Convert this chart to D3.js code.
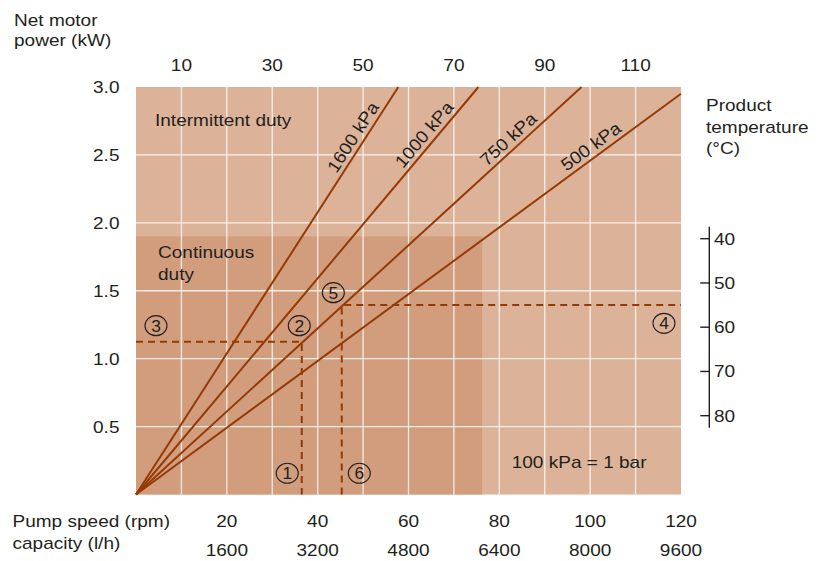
<!DOCTYPE html>
<html>
<head>
<meta charset="utf-8">
<script src="https://cdn.jsdelivr.net/npm/d3@7/dist/d3.min.js"></script>
<style>
  html, body { margin: 0; padding: 0; background: #fff; }
  svg text { font-family: "Liberation Sans", Arial, Helvetica, sans-serif; fill: #231f20; }
</style>
</head>
<body>
<svg id="chart" width="828" height="561"></svg>
<script>
// ---------- data ----------
const speedTicksTop = [10, 30, 50, 70, 90, 110];
const speedTicksBottom = [20, 40, 60, 80, 100, 120];
const capacityTicks = [1600, 3200, 4800, 6400, 8000, 9600];
const powerTicks = [0.5, 1.0, 1.5, 2.0, 2.5, 3.0];
const tempTicks = [40, 50, 60, 70, 80];
const gridSpeeds = [10, 20, 30, 40, 50, 60, 70, 80, 90, 100, 110];
const gridPowers = [0.5, 1.0, 1.5, 2.0, 2.5];

const pressureLabels = ["1600 kPa", "1000 kPa", "750 kPa", "500 kPa"];
const lineEndSpeed = [57.75, 75.4, 98.1, 120];
const lineEndPower = [3.0, 3.0, 3.0, 2.95];
const labelSpeed = [49.8, 65.3, 83.6, 101.6];

const continuousMaxSpeed = 76.2;
const continuousMaxPower = 1.9;

// dashed reading examples: [speed, power]
const example1 = [36.5, 1.125];   // reading at 750 kPa -> power
const example2 = [45.3, 1.395];   // reading at 750 kPa -> temperature

const markerLabels = ["1", "2", "3", "4", "5", "6"];
const markerSpeed = [33.3, 35.95, 4.4, 116.25, 43.45, 49.17];
const markerPower = [0.156, 1.243, 1.243, 1.26, 1.486, 0.156];

const tempAxisExtent = [37.3, 82.7];

// ---------- layout ----------
const SX = 1.12;        // horizontal text stretch of the original
const FS = 17;
const lineColor = "#963a05";
const bgIntermittent = "#dcb398";
const bgContinuous = "#d19d7d";

const svg = d3.select("#chart");
const x = d3.scaleLinear().domain([0, 120]).range([136, 681]);
const y = d3.scaleLinear().domain([0, 3]).range([494.5, 87]);
const yT = d3.scaleLinear().domain([40, 80]).range([238.7, 415.7]);

function txt(g, str, px, py, anchor) {
  return g.append("text")
    .attr("transform", `translate(${px},${py}) scale(${SX},1)`)
    .attr("text-anchor", anchor || "start")
    .style("font-size", FS + "px")
    .text(str);
}

// backgrounds
svg.append("rect")
  .attr("x", x(0)).attr("y", y(3))
  .attr("width", x(120) - x(0)).attr("height", y(0) - y(3))
  .attr("fill", bgIntermittent);
svg.append("rect")
  .attr("x", x(0)).attr("y", y(continuousMaxPower))
  .attr("width", x(continuousMaxSpeed) - x(0)).attr("height", y(0) - y(continuousMaxPower))
  .attr("fill", bgContinuous);

// grid
const grid = svg.append("g").attr("stroke", "#fff").attr("stroke-opacity", 0.8).attr("stroke-width", 1.3);
grid.selectAll("line.v").data(gridSpeeds).join("line")
  .attr("x1", d => x(d)).attr("x2", d => x(d))
  .attr("y1", y(0)).attr("y2", y(3));
grid.selectAll("line.h").data(gridPowers).join("line")
  .attr("x1", x(0)).attr("x2", x(120))
  .attr("y1", d => y(d)).attr("y2", d => y(d));

// pressure lines
const lines = pressureLabels.map((p, i) => ({
  label: p, s: lineEndSpeed[i], p: lineEndPower[i], ls: labelSpeed[i]
}));
const lineGen = d3.line().x(d => x(d[0])).y(d => y(d[1]));
svg.append("g").selectAll("path").data(lines).join("path")
  .attr("d", d => lineGen([[0, 0], [d.s, d.p]]))
  .attr("fill", "none").attr("stroke", lineColor).attr("stroke-width", 2);

// line labels
lines.forEach(d => {
  const dx = x(d.s) - x(0), dy = y(d.p) - y(0);
  const ang = Math.atan2(dy, dx) * 180 / Math.PI;
  const px = x(d.ls), py = y(d.p / d.s * d.ls);
  svg.append("text")
    .attr("transform", `translate(${px},${py}) rotate(${ang}) scale(1.08,1)`)
    .attr("x", 0).attr("y", -5)
    .attr("text-anchor", "middle")
    .style("font-size", "17.5px")
    .text(d.label);
});

// dashed reading lines
const dash = svg.append("g").attr("fill", "none").attr("stroke", lineColor)
  .attr("stroke-width", 2).attr("stroke-dasharray", "7,5");
dash.append("path").attr("d", lineGen([[0, example1[1]], example1, [example1[0], 0]]));
dash.append("path").attr("d", lineGen([[example2[0], 0], example2, [120, example2[1]]]));

// circled markers
const mk = svg.append("g");
markerLabels.forEach((m, i) => {
  const cx = x(markerSpeed[i]), cy = y(markerPower[i]);
  mk.append("ellipse").attr("cx", cx).attr("cy", cy).attr("rx", 11).attr("ry", 10)
    .attr("fill", "none").attr("stroke", "#231f20").attr("stroke-width", 1.1);
  mk.append("text")
    .attr("transform", `translate(${cx},${cy + 6}) scale(1.05,1)`)
    .attr("text-anchor", "middle")
    .style("font-size", "16.5px")
    .text(m);
});

// region texts
txt(svg, "Intermittent duty", 155, 126);
txt(svg, "Continuous", 158, 258.3);
txt(svg, "duty", 158, 279.5);
txt(svg, "100 kPa = 1 bar", 511.7, 468);

// left axis title and labels
txt(svg, "Net motor", 14, 26);
txt(svg, "power (kW)", 14, 46);
powerTicks.forEach(v => txt(svg, d3.format(".1f")(v), 119.5, y(v) + 6, "end"));

// top labels
speedTicksTop.forEach(v => txt(svg, String(v), x(v), 71, "middle"));

// bottom labels
txt(svg, "Pump speed (rpm)", 12.5, 527.3);
txt(svg, "capacity (l/h)", 12.5, 548.5);
speedTicksBottom.forEach((v, i) => {
  txt(svg, String(v), x(v), 527.3, "middle");
  txt(svg, String(capacityTicks[i]), x(v), 555.5, "middle");
});

// right temperature axis
const ax = 709.3;
const rg = svg.append("g").attr("stroke", "#231f20").attr("stroke-width", 1.4);
rg.append("line").attr("x1", ax).attr("x2", ax)
  .attr("y1", yT(tempAxisExtent[0])).attr("y2", yT(tempAxisExtent[1]));
rg.selectAll("line.t").data(tempTicks).join("line")
  .attr("x1", ax - 9).attr("x2", ax)
  .attr("y1", d => yT(d)).attr("y2", d => yT(d));
tempTicks.forEach(v => txt(svg, String(v), 714, yT(v) + 6));
txt(svg, "Product", 706, 110.7);
txt(svg, "temperature", 706, 132.7);
txt(svg, "(°C)", 706, 154);
</script>
</body>
</html>
